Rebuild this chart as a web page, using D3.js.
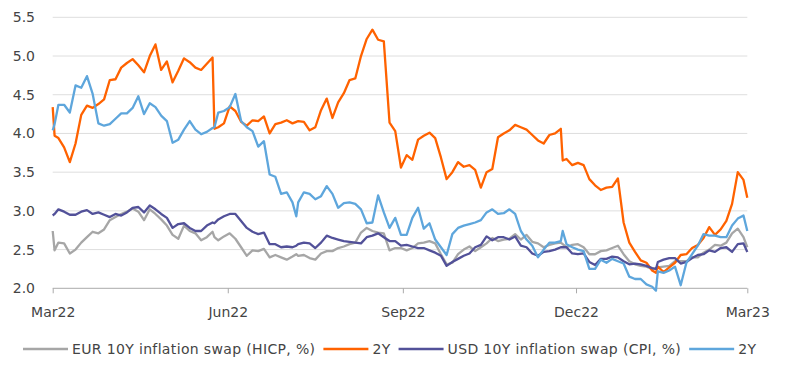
<!DOCTYPE html>
<html>
<head>
<meta charset="utf-8">
<script src="https://cdn.jsdelivr.net/npm/d3@7"></script>
<style>
  html, body { margin: 0; padding: 0; background: #fff; }
  svg { display: block; font-family: "DejaVu Sans", sans-serif; }
</style>
</head>
<body>
<svg id="chart" width="800" height="367"></svg>
<script>
const dates = ["2022-03-01","2022-03-02","2022-03-04","2022-03-07","2022-03-10","2022-03-13","2022-03-16","2022-03-19","2022-03-22","2022-03-25","2022-03-28","2022-03-31",
"2022-04-03","2022-04-06","2022-04-09","2022-04-12","2022-04-15","2022-04-18","2022-04-21","2022-04-24","2022-04-27","2022-04-30",
"2022-05-03","2022-05-06","2022-05-09","2022-05-12","2022-05-15","2022-05-18","2022-05-21","2022-05-24","2022-05-25","2022-05-27","2022-05-30",
"2022-06-02","2022-06-05","2022-06-08","2022-06-11","2022-06-14","2022-06-17","2022-06-20","2022-06-23","2022-06-26","2022-06-29",
"2022-07-02","2022-07-05","2022-07-07","2022-07-08","2022-07-11","2022-07-14","2022-07-17","2022-07-20","2022-07-23","2022-07-26","2022-07-29",
"2022-08-01","2022-08-04","2022-08-07","2022-08-10","2022-08-13","2022-08-16","2022-08-19","2022-08-22","2022-08-25","2022-08-28","2022-08-31",
"2022-09-03","2022-09-06","2022-09-09","2022-09-12","2022-09-15","2022-09-18","2022-09-21","2022-09-24","2022-09-27","2022-09-30",
"2022-10-03","2022-10-06","2022-10-09","2022-10-12","2022-10-15","2022-10-18","2022-10-21","2022-10-24","2022-10-27","2022-10-30",
"2022-11-02","2022-11-05","2022-11-08","2022-11-11","2022-11-14","2022-11-17","2022-11-20","2022-11-23","2022-11-24","2022-11-26","2022-11-29",
"2022-12-02","2022-12-05","2022-12-08","2022-12-11","2022-12-14","2022-12-17","2022-12-20","2022-12-23","2022-12-26","2022-12-29",
"2023-01-01","2023-01-04","2023-01-07","2023-01-10","2023-01-12","2023-01-13","2023-01-16","2023-01-19","2023-01-22","2023-01-25","2023-01-28","2023-01-31",
"2023-02-03","2023-02-06","2023-02-09","2023-02-12","2023-02-15","2023-02-18","2023-02-21","2023-02-24","2023-02-27","2023-03-01"];

// EUR 10Y inflation swap (HICP, %)
const eur10y = [2.74,2.49,2.59,2.58,2.45,2.50,2.59,2.66,2.73,2.71,2.76,2.88,
2.92,2.96,2.99,3.03,2.99,2.88,3.02,2.96,2.89,2.81,
2.69,2.64,2.81,2.74,2.71,2.62,2.66,2.73,2.66,2.62,2.67,
2.71,2.64,2.53,2.42,2.49,2.48,2.51,2.40,2.43,2.40,
2.37,2.41,2.44,2.42,2.43,2.39,2.37,2.45,2.48,2.48,2.52,
2.54,2.57,2.59,2.72,2.78,2.74,2.72,2.71,2.49,2.52,2.52,
2.49,2.52,2.58,2.59,2.61,2.58,2.44,2.31,2.33,2.44,
2.50,2.54,2.48,2.53,2.58,2.65,2.61,2.63,2.64,2.70,
2.63,2.69,2.60,2.58,2.53,2.56,2.58,2.59,2.57,2.53,2.56,
2.57,2.53,2.44,2.44,2.48,2.49,2.52,2.55,2.44,2.35,
2.31,2.29,2.28,2.25,2.25,2.27,2.28,2.29,2.35,2.35,2.35,2.40,
2.40,2.46,2.50,2.56,2.55,2.59,2.71,2.77,2.66,2.53];

// EUR 2Y
const eur2y = [4.34,3.97,3.94,3.82,3.63,3.87,4.24,4.36,4.33,4.38,4.44,4.69,
4.70,4.85,4.91,4.96,4.88,4.79,5.00,5.15,4.82,4.93,
4.66,4.81,4.97,4.92,4.85,4.82,4.90,4.98,4.06,4.08,4.13,
4.35,4.29,4.15,4.10,4.17,4.16,4.22,4.00,4.12,4.14,
4.17,4.13,4.15,4.16,4.15,4.04,4.08,4.30,4.45,4.20,4.40,
4.52,4.69,4.71,5.00,5.22,5.34,5.21,5.19,4.14,4.03,3.56,
3.72,3.66,3.92,3.97,4.01,3.94,3.69,3.41,3.50,3.63,
3.57,3.59,3.53,3.30,3.50,3.54,3.95,4.00,4.04,4.11,
4.08,4.05,3.98,3.91,3.87,3.98,4.00,4.06,3.65,3.67,3.59,
3.62,3.59,3.41,3.33,3.27,3.30,3.31,3.42,2.85,2.59,
2.47,2.36,2.33,2.23,2.20,2.28,2.21,2.27,2.33,2.43,2.44,2.52,
2.56,2.65,2.79,2.69,2.76,2.87,3.09,3.50,3.40,3.17];

// USD 10Y inflation swap (CPI, %)
const usd10y = [2.94,2.96,3.02,2.99,2.95,2.95,2.99,3.01,2.96,2.98,2.95,2.92,
2.96,2.94,2.98,3.04,3.05,2.98,3.07,3.02,2.96,2.91,
2.78,2.83,2.84,2.78,2.74,2.74,2.81,2.85,2.84,2.89,2.93,
2.96,2.96,2.87,2.78,2.73,2.70,2.72,2.57,2.57,2.53,
2.54,2.53,2.55,2.57,2.59,2.58,2.52,2.59,2.68,2.65,2.63,
2.61,2.60,2.59,2.58,2.66,2.68,2.71,2.66,2.61,2.61,2.55,
2.56,2.54,2.52,2.52,2.49,2.46,2.42,2.29,2.34,2.38,
2.42,2.45,2.53,2.56,2.67,2.62,2.66,2.66,2.63,2.67,
2.55,2.53,2.45,2.42,2.47,2.48,2.50,2.53,2.53,2.53,2.45,
2.44,2.45,2.34,2.30,2.38,2.38,2.41,2.40,2.35,2.31,
2.32,2.31,2.29,2.26,2.25,2.34,2.37,2.39,2.39,2.32,2.34,2.39,
2.43,2.44,2.49,2.47,2.52,2.53,2.47,2.57,2.58,2.47];

// USD 2Y
const usd2y = [4.04,4.12,4.37,4.37,4.27,4.62,4.59,4.74,4.51,4.13,4.10,4.12,
4.19,4.26,4.26,4.33,4.48,4.25,4.39,4.34,4.23,4.16,
3.88,3.92,4.05,4.16,4.05,3.99,4.02,4.07,4.08,4.27,4.29,
4.34,4.51,4.16,4.08,4.03,3.83,3.90,3.47,3.44,3.22,
3.24,3.11,2.93,3.11,3.24,3.22,3.15,3.19,3.32,3.22,3.04,
3.10,3.11,3.09,3.02,2.84,2.85,3.20,2.98,2.78,2.91,2.69,
2.69,2.91,3.04,2.77,2.84,2.63,2.53,2.43,2.70,2.78,
2.81,2.83,2.85,2.88,2.98,3.02,2.96,2.97,3.02,2.96,
2.74,2.63,2.55,2.40,2.50,2.59,2.59,2.61,2.74,2.57,2.53,
2.50,2.48,2.25,2.25,2.37,2.33,2.38,2.35,2.32,2.15,
2.12,2.12,2.05,2.02,1.97,2.22,2.20,2.23,2.28,2.04,2.33,2.44,
2.55,2.70,2.68,2.68,2.66,2.66,2.81,2.90,2.94,2.74];

const seriesNames = ["EUR 10Y inflation swap (HICP, %)", "2Y", "USD 10Y inflation swap (CPI, %)", "2Y"];
const seriesColors = ["#a6a6a6", "#ff6200", "#525199", "#5ea6dc"];
const yTickValues = [2.0, 2.5, 3.0, 3.5, 4.0, 4.5, 5.0, 5.5];
const xTickDates = ["2022-03-01", "2022-06-01", "2022-09-01", "2022-12-01", "2023-03-01"];
const xTickLabels = ["Mar22", "Jun22", "Sep22", "Dec22", "Mar23"];

const parse = d3.utcParse("%Y-%m-%d");
const dateObjs = dates.map(parse);
const seriesValues = [eur10y, eur2y, usd10y, usd2y];

const FONT = "DejaVu Sans, sans-serif";
const TEXT_COLOR = "#444444";
const svg = d3.select("#chart");
const plotLeft = 52.7, plotRight = 747.3, plotTop = 17.3, plotBottom = 288.3;

const x = d3.scaleUtc().domain([parse(xTickDates[0]), parse(xTickDates[xTickDates.length - 1])]).range([plotLeft, plotRight]);
const y = d3.scaleLinear().domain([2.0, 5.5]).range([plotBottom, plotTop]);

// gridlines
svg.append("g")
  .selectAll("line")
  .data(yTickValues.filter(v => v > 2.0))
  .join("line")
  .attr("x1", plotLeft).attr("x2", plotRight)
  .attr("y1", d => y(d)).attr("y2", d => y(d))
  .attr("stroke", "#dedede").attr("stroke-width", 1);

// y axis labels
const yAxis = d3.axisLeft(y).tickValues(yTickValues).tickFormat(d3.format(".1f")).tickSize(0).tickPadding(0);
const gy = svg.append("g").attr("transform", `translate(35,0)`).call(yAxis);
gy.select(".domain").remove();
gy.selectAll("text").attr("font-size", 14).attr("fill", TEXT_COLOR).attr("font-family", FONT);

// x axis
const xAxis = d3.axisBottom(x).tickValues(xTickDates.map(parse)).tickFormat((d, i) => xTickLabels[i]).tickSize(5).tickPadding(14);
const gx = svg.append("g").attr("transform", `translate(0,${plotBottom})`).call(xAxis);
gx.select(".domain").attr("stroke", "#aaaaaa").attr("d", `M${plotLeft},0H${plotRight}`);
gx.selectAll(".tick line").attr("stroke", "#aaaaaa");
gx.selectAll("text").attr("font-size", 14).attr("fill", TEXT_COLOR).attr("font-family", FONT);

// lines
const line = d3.line().x((d, i) => x(dateObjs[i])).y(d => y(d));
svg.append("g")
  .selectAll("path")
  .data(seriesValues)
  .join("path")
  .attr("d", d => line(d))
  .attr("fill", "none")
  .attr("stroke", (d, i) => seriesColors[i])
  .attr("stroke-width", 2.3)
  .attr("stroke-linejoin", "round");

// legend
const lg = svg.append("g").attr("transform", "translate(0,349)");
let cx = 23;
seriesNames.forEach((name, i) => {
  lg.append("line").attr("x1", cx).attr("x2", cx + 45).attr("y1", 0).attr("y2", 0)
    .attr("stroke", seriesColors[i]).attr("stroke-width", 2.3);
  cx += 49;
  const t = lg.append("text").attr("x", cx).attr("y", 0).attr("dy", "0.35em")
    .attr("font-size", 14).attr("letter-spacing", "0.35px")
    .attr("fill", TEXT_COLOR).attr("font-family", FONT).text(name);
  cx += t.node().getComputedTextLength() + 8;
});
</script>
</body>
</html>
